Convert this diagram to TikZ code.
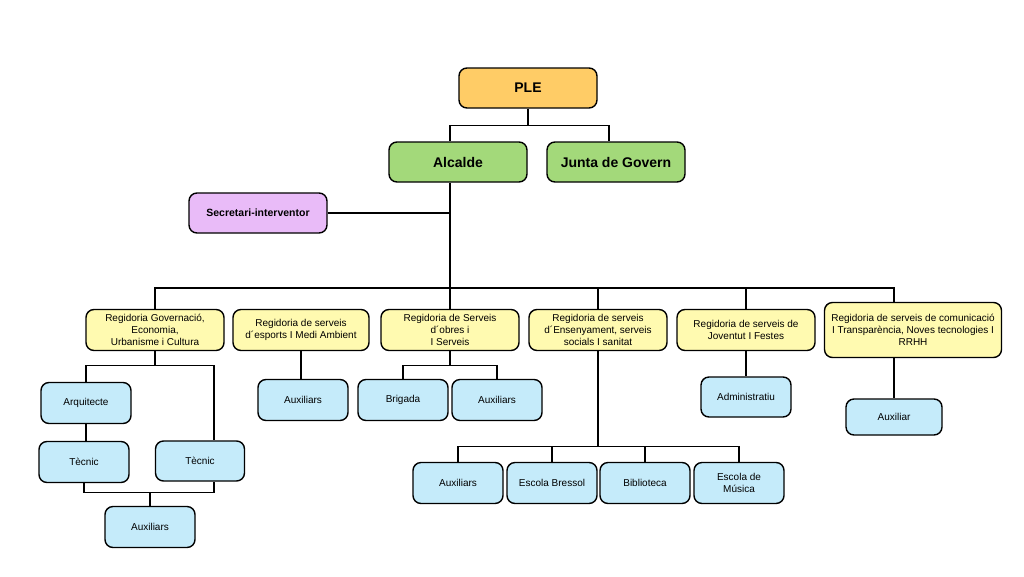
\documentclass[tikz,border=0pt]{standalone}
\usepackage{fontspec}
\setmainfont{Liberation Sans}
\usetikzlibrary{calc}
\definecolor{pleorange}{HTML}{FFCC66}
\definecolor{govgreen}{HTML}{A3D97A}
\definecolor{secpurple}{HTML}{E9BBF8}
\definecolor{regyellow}{HTML}{FFFAB0}
\definecolor{staffblue}{HTML}{C5EBFA}
\begin{document}
\begin{tikzpicture}[x=1pt,y=-1pt,
    box/.style={draw, line width=1.4pt, rounded corners=8pt, align=center, inner sep=1pt,
        font=\fontsize{10}{12}\selectfont},
    head/.style={box, minimum width=138pt, minimum height=40pt, font=\fontsize{14}{16}\selectfont\bfseries},
    regbox/.style={box, fill=regyellow, minimum width=138pt, minimum height=41pt},
    staff/.style={box, fill=staffblue, minimum width=90pt, minimum height=41pt},
    wire/.style={line width=1.4pt}]
    \useasboundingbox (0,0) rectangle (1024,576);
    \node[head, fill=pleorange] at (528,88) (ple) {PLE};
    \node[head, fill=govgreen] at (458,162) (alc) {Alcalde};
    \node[head, fill=govgreen] at (616,162) (jun) {Junta de Govern};
    \node[head, fill=secpurple, font=\fontsize{10.5}{12}\selectfont\bfseries] at (258,213) (sec) {Secretari-interventor};
    \node[regbox] at (155,330) (reg1) {Regidoria Governació,\\Economia,\\Urbanisme i Cultura};
    \node[regbox, minimum width=136pt] at (301,330) (reg2) {Regidoria de serveis\\d´esports I Medi Ambient};
    \node[regbox] at (450,330) (reg3) {Regidoria de Serveis\\d´obres i\\I Serveis};
    \node[regbox] at (598,330) (reg4) {Regidoria de serveis\\d´Ensenyament, serveis\\socials I sanitat};
    \node[regbox] at (746,330) (reg5) {Regidoria de serveis de\\Joventut I Festes};
    \node[regbox, minimum width=177pt, minimum height=55pt] at (913,330) (reg6) {Regidoria de serveis de comunicació\\I Transparència, Noves tecnologies I\\RRHH};
    \node[staff] at (86,403) (arq) {Arquitecte};
    \node[staff] at (84,462) (tec1) {Tècnic};
    \node[staff, minimum width=89pt, minimum height=40pt] at (200,461) (tec2) {Tècnic};
    \node[staff] at (150,527) (aux1) {Auxiliars};
    \node[staff] at (303,400) (aux2) {Auxiliars};
    \node[staff] at (403,400) (brig) {Brigada};
    \node[staff] at (497,400) (aux3) {Auxiliars};
    \node[staff] at (458,483) (aux4) {Auxiliars};
    \node[staff] at (552,483) (bres) {Escola Bressol};
    \node[staff] at (645,483) (bib) {Biblioteca};
    \node[staff] at (739,483) (mus) {Escola de\\Música};
    \node[staff, minimum height=40pt] at (746,397) (adm) {Administratiu};
    \node[staff, minimum width=96pt, minimum height=36pt] at (894,417) (aux6) {Auxiliar};
    % top of the chart
    \draw[wire] (ple.south) -- ++(0,17) coordinate (pb) -| (alc.north -| reg3.north);
    \draw[wire] (pb) -| ($(jun.north)+(-7,0)$);
    \draw[wire] (alc.south -| reg3.north) -- (reg3.north);
    \draw[wire] (sec.east) -- (sec.east -| reg3.north);
    % bus to the regidories
    \coordinate (bus) at (0,288);
    \draw[wire] (reg1.north) -- (reg1.north |- bus) -- (aux6.north |- bus) -- (aux6.north |- reg6.north);
    \draw[wire] (reg4.north) -- (reg4.north |- bus);
    \draw[wire] (reg5.north) -- (reg5.north |- bus);
    % staff under each regidoria
    \draw[wire] (reg1.south) -- ++(0,14) coordinate (g1);
    \draw[wire] (arq.north) |- (g1) -| ($(tec2.north)+(14,0)$);
    \draw[wire] (arq.south) -- (arq.south |- tec1.north);
    \draw[wire] (tec1.south) -- ++(0,9) coordinate (g2) -| ($(tec2.south)+(14,0)$);
    \draw[wire] (aux1.north) -- (aux1.north |- g2);
    \draw[wire] (reg2.south) -- (reg2.south |- aux2.north);
    \draw[wire] (reg3.south) -- ++(0,14) coordinate (g3);
    \draw[wire] (brig.north) |- (g3) -| (aux3.north);
    \draw[wire] (reg4.south) -- ++(0,95) coordinate (g4);
    \draw[wire] (aux4.north) |- (g4) -| (mus.north);
    \draw[wire] (bres.north) -- (bres.north |- g4);
    \draw[wire] (bib.north) -- (bib.north |- g4);
    \draw[wire] (reg5.south) -- (reg5.south |- adm.north);
    \draw[wire] (aux6.north |- reg6.south) -- (aux6.north);
\end{tikzpicture}
\end{document}
